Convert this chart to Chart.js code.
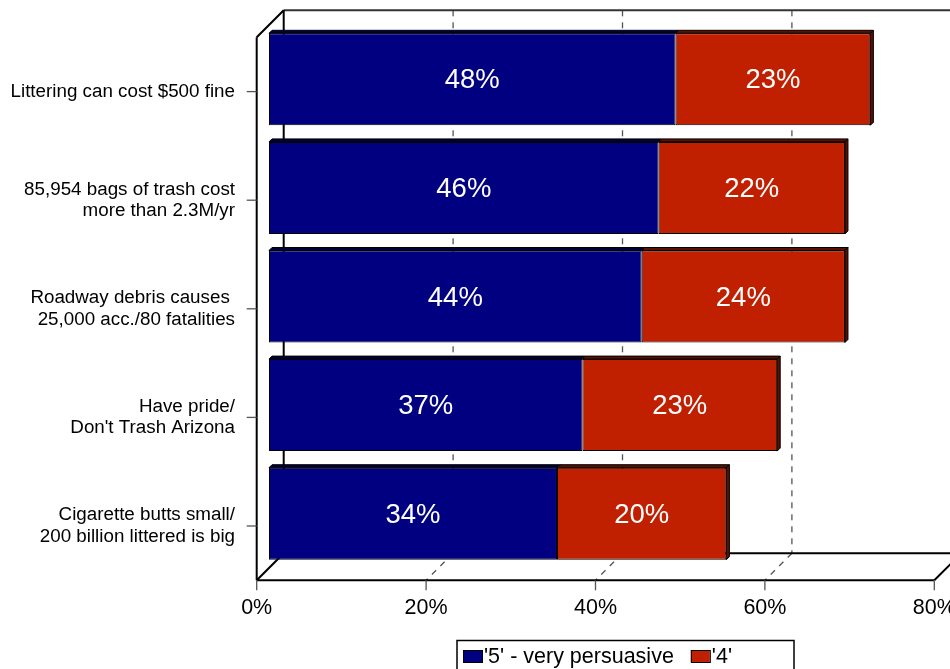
<!DOCTYPE html>
<html>
<head>
<meta charset="utf-8">
<script src="https://cdn.jsdelivr.net/npm/chart.js@4.4.1/dist/chart.umd.min.js"></script>
<style>
  html, body { margin: 0; padding: 0; background: #fff; }
  #wrap { width: 950px; height: 669px; }
</style>
</head>
<body>
<div id="wrap"><canvas id="chart" width="950" height="669"></canvas></div>
<script>
// ---- data ----
const categories = [
  ['Littering can cost $500 fine'],
  ['85,954 bags of trash cost', 'more than 2.3M/yr'],
  ['Roadway debris causes ', '25,000 acc./80 fatalities'],
  ['Have pride/', "Don't Trash Arizona"],
  ['Cigarette butts small/', '200 billion littered is big'],
];
const seriesNames   = ["'5' - very persuasive", "'4'"];
const veryPersuasive = [48, 46, 44, 37, 34];
const persuasive     = [23, 22, 24, 23, 20];
const xTicks         = [0, 20, 40, 60, 80];

const FONT   = "'Liberation Sans', Arial, Helvetica, sans-serif";
const NAVY   = '#000080';
const RED    = '#C02000';
const TOPS   = ['#00003a', '#5a1000'];   // darker faces for the fake 3D
const SHIFT  = 12.3;  // bars sit this far behind the front plane
const WALL   = 27;    // depth of the back wall
const BAR_D  = 3;     // depth of each bar

// draws the box walls, dashed gridlines and tick marks behind the bars
const frame3d = {
  id: 'frame3d',
  beforeDatasetsDraw(chart) {
    const { ctx, chartArea: a, scales: { x, y } } = chart;
    const fx = v => x.getPixelForValue(v) - SHIFT;
    const fTop = a.top + SHIFT, fBot = a.bottom + SHIFT;
    const bTop = fTop - WALL, bBot = fBot - WALL;
    const line = (x1, y1, x2, y2) => { ctx.beginPath(); ctx.moveTo(x1, y1); ctx.lineTo(x2, y2); ctx.stroke(); };

    ctx.save();
    // dashed gridlines on back wall + floor
    ctx.strokeStyle = '#555';
    ctx.lineWidth = 1.3;
    ctx.setLineDash([6, 6]);
    xTicks.slice(1, -1).forEach(v => {
      line(fx(v) + WALL, bTop, fx(v) + WALL, bBot);
      line(fx(v) + WALL, bBot, fx(v), fBot);
    });
    ctx.setLineDash([]);

    // back wall
    ctx.strokeStyle = '#333';
    ctx.lineWidth = 2;
    line(fx(0) + WALL, bTop, chart.width + 20, bTop);
    ctx.strokeStyle = '#000';
    line(fx(0) + WALL, bTop, fx(0) + WALL, bBot);
    line(fx(0) + WALL, bBot, fx(80) + WALL, bBot);

    // left wall + floor front edge
    line(fx(0), fTop, fx(0), fBot);
    line(fx(0), fTop, fx(0) + WALL, bTop);
    line(fx(0), fBot, fx(0) + WALL, bBot);
    line(fx(0), fBot, fx(80), fBot);
    line(fx(80), fBot, fx(80) + WALL, bBot);

    // tick marks
    ctx.strokeStyle = '#555';
    ctx.lineWidth = 1.3;
    xTicks.forEach(v => line(fx(v), fBot, fx(v), fBot + 10));
    categories.forEach((c, i) => {
      const py = y.getPixelForValue(i) + SHIFT;
      line(fx(0) - 10, py, fx(0), py);
    });
    ctx.restore();
  },
  afterDatasetsDraw(chart) {
    const { ctx } = chart;
    const n = chart.data.datasets.length;
    ctx.save();
    chart.data.datasets.forEach((ds, di) => {
      chart.getDatasetMeta(di).data.forEach((bar, i) => {
        const p = bar.getProps(['x', 'y', 'base', 'height'], true);
        const top = p.y - p.height / 2, bot = p.y + p.height / 2;
        ctx.fillStyle = TOPS[di];
        ctx.strokeStyle = '#000';
        ctx.lineWidth = 1;
        ctx.beginPath();
        ctx.moveTo(p.base, top); ctx.lineTo(p.x, top);
        ctx.lineTo(p.x + BAR_D, top - BAR_D); ctx.lineTo(p.base + BAR_D, top - BAR_D);
        ctx.closePath(); ctx.fill(); ctx.stroke();
        if (di === n - 1) {
          ctx.beginPath();
          ctx.moveTo(p.x, top); ctx.lineTo(p.x + BAR_D, top - BAR_D);
          ctx.lineTo(p.x + BAR_D, bot - BAR_D); ctx.lineTo(p.x, bot);
          ctx.closePath(); ctx.fill(); ctx.stroke();
        }
        // value label
        ctx.fillStyle = '#fff';
        ctx.font = `27.5px ${FONT}`;
        ctx.textAlign = 'center';
        ctx.textBaseline = 'middle';
        ctx.fillText(ds.data[i] + '%', (p.x + p.base) / 2, p.y + 1.5);
      });
    });
    ctx.restore();
  },
  afterDraw(chart) {
    // legend box below the axis
    const { ctx } = chart;
    ctx.save();
    ctx.strokeStyle = '#000';
    ctx.lineWidth = 1.5;
    ctx.strokeRect(457, 640.5, 337, 40);
    ctx.font = `21.5px ${FONT}`;
    ctx.textBaseline = 'middle';
    ctx.textAlign = 'left';
    let lx = 463;
    chart.data.datasets.forEach(ds => {
      ctx.fillStyle = ds.backgroundColor;
      ctx.fillRect(lx, 650, 19, 12);
      ctx.lineWidth = 1;
      ctx.strokeRect(lx + 0.5, 650.5, 19, 12);
      ctx.fillStyle = '#000';
      ctx.fillText(ds.label, lx + 21, 657);
      lx += 21 + ctx.measureText(ds.label).width + 17;
    });
    ctx.restore();
  },
};

new Chart(document.getElementById('chart').getContext('2d'), {
  type: 'bar',
  data: {
    labels: categories,
    datasets: [
      { label: seriesNames[0], data: veryPersuasive, backgroundColor: NAVY },
      { label: seriesNames[1], data: persuasive,     backgroundColor: RED },
    ],
  },
  options: {
    indexAxis: 'y',
    responsive: false,
    animation: false,
    layout: { padding: { left: 0, top: 25, right: 3.4, bottom: 0 } },
    datasets: {
      bar: {
        barPercentage: 0.847,
        categoryPercentage: 1,
        borderWidth: 1,
        borderColor: '#000',
        borderSkipped: false,
      },
    },
    plugins: {
      legend:  { display: false },
      tooltip: { enabled: false },
    },
    scales: {
      x: {
        stacked: true,
        min: 0,
        max: 80,
        grid:   { display: false, drawTicks: false },
        border: { display: false },
        afterBuildTicks: s => { s.ticks = xTicks.map(v => ({ value: v })); },
        ticks: {
          callback: v => v + '%',
          labelOffset: -SHIFT,
          padding: 27,
          maxRotation: 0,
          autoSkip: false,
          color: '#000',
          font: { family: FONT, size: 21.5 },
        },
        afterFit: s => { s.height = 101; s.paddingLeft = 0; s.paddingRight = 0; },
      },
      y: {
        stacked: true,
        grid:   { display: false, drawTicks: false },
        border: { display: false },
        ticks: {
          labelOffset: SHIFT,
          padding: 34,
          autoSkip: false,
          color: '#000',
          font: { family: FONT, size: 18.8, lineHeight: 1.15 },
        },
        afterFit: s => { s.width = 269; s.paddingTop = 0; s.paddingBottom = 0; },
      },
    },
  },
  plugins: [frame3d],
});
</script>
</body>
</html>
